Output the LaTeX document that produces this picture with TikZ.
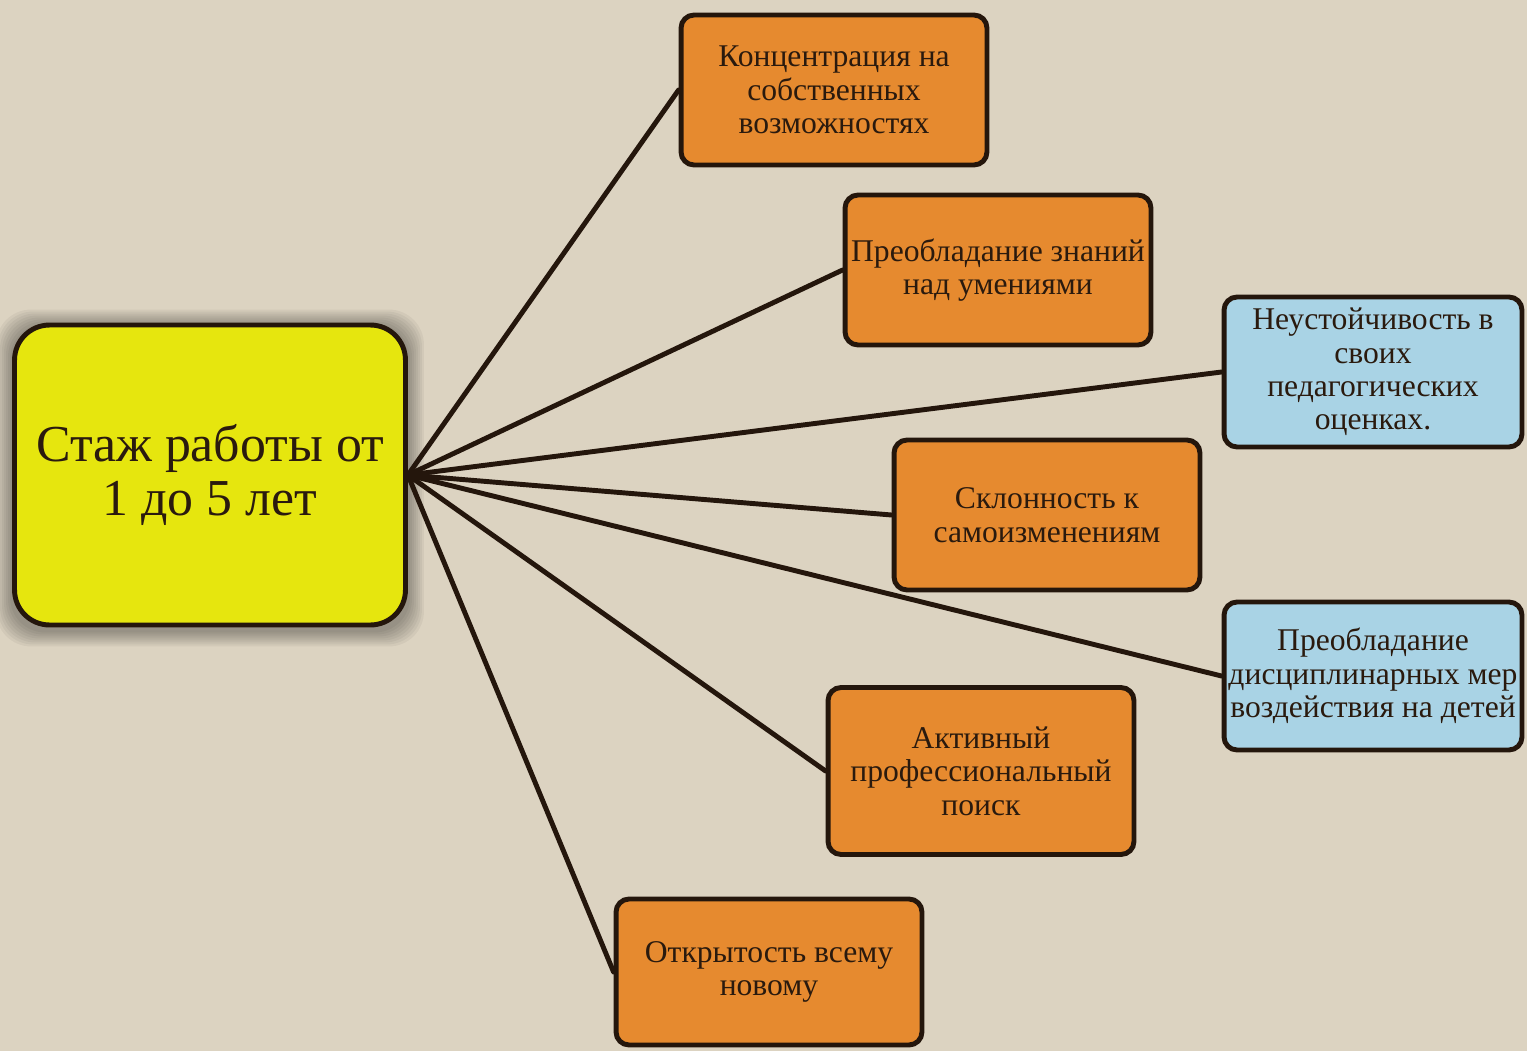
\documentclass[tikz,border=0pt]{standalone}
\usepackage{fontspec}
\setmainfont{Liberation Serif}
\usetikzlibrary{positioning}

\definecolor{canvas}{HTML}{DCD3C1}
\definecolor{mainfill}{HTML}{E6E60E}
\definecolor{warmfill}{HTML}{E68A2F}
\definecolor{coolfill}{HTML}{A9D3E5}
\definecolor{edge}{HTML}{24160C}
\definecolor{ink}{HTML}{2A1A0E}

\pgfdeclarelayer{back}
\pgfdeclarelayer{wires}
\pgfsetlayers{back,wires,main}

\begin{document}
\begin{tikzpicture}[x=0.02cm, y=-0.02cm,
    card/.style={rectangle, draw=edge, line width=2.8pt, rounded corners=0.26cm,
      text=ink, align=center, inner sep=0pt, font=\fontsize{18}{19}\selectfont,
      minimum width=6.12cm, minimum height=3.0cm},
    warm/.style={card, fill=warmfill},
    cool/.style={card, fill=coolfill, minimum width=5.96cm},
    wire/.style={draw=edge, line width=2.8pt, line cap=round}]
  \useasboundingbox (0,0) rectangle (1527,1051);

  % centre box
  \node[card, fill=mainfill, minimum width=7.82cm, minimum height=6cm, rounded corners=0.7cm,
    font=\fontsize{29.5}{31}\selectfont] (main) at (210,475) {Стаж работы от\\1 до 5 лет};

  % features
  \node[warm] (focus) at (834,90) {Концентрация на\\собственных\\возможностях};
  \node[warm] (knowledge) at (998,270) {Преобладание знаний\\над умениями};
  \node[cool] (unsteady) at (1373,372) {Неустойчивость в\\своих\\педагогических\\оценках.};
  \node[warm] (change) at (1047,515) {Склонность к\\самоизменениям};
  \node[cool, minimum height=2.96cm] (discipline) at (1373,676) {Преобладание\\дисциплинарных мер\\воздействия на детей};
  \node[warm, minimum height=3.34cm] (search) at (981,771) {Активный\\профессиональный\\поиск};
  \node[warm, minimum height=2.92cm] (open) at (769,972) {Открытость всему\\новому};

  \begin{pgfonlayer}{wires}
    \foreach \target in {focus,knowledge,unsteady,change,discipline,search,open}
      \draw[wire] (main.east) -- (\target.west);
  \end{pgfonlayer}

  \begin{pgfonlayer}{back}
    \fill[canvas] (0,0) rectangle (1527,1051);
    \foreach \k in {2,4,...,16}
      \fill[black, opacity=0.045, rounded corners=0.7cm]
        ([shift={(-\k,-\k+3)}]main.north west) rectangle ([shift={(\k,\k+3)}]main.south east);
  \end{pgfonlayer}
\end{tikzpicture}
\end{document}
